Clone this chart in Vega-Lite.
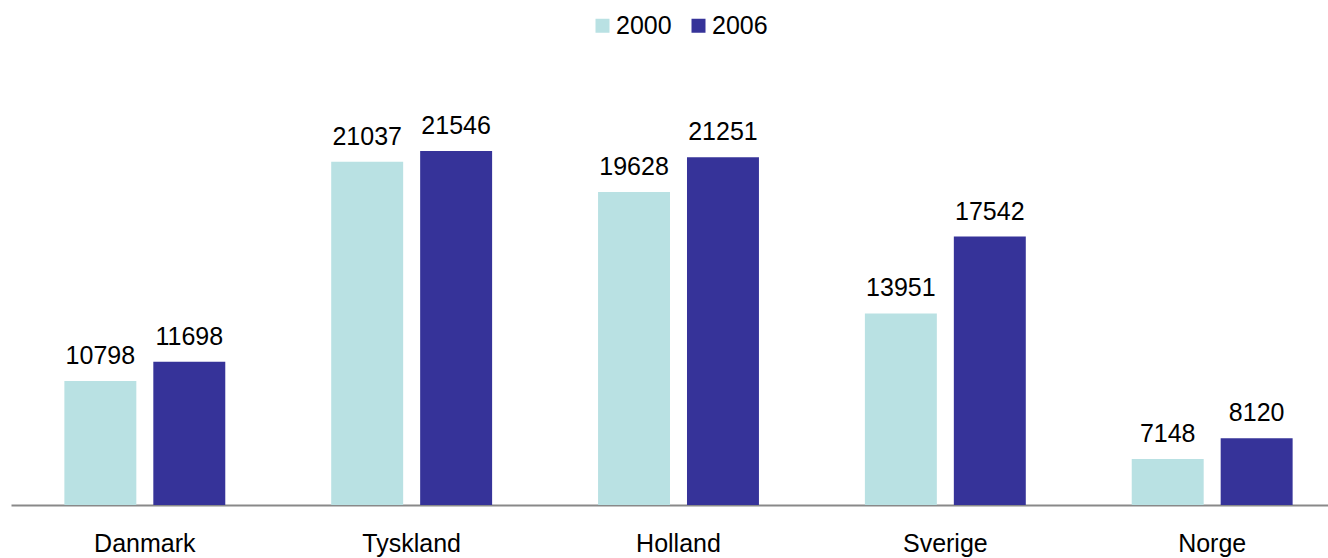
{
  "$schema": "https://vega.github.io/schema/vega-lite/v6.json",
  "autosize": {"type": "none"},
  "width": 1317,
  "height": 428,
  "padding": {"left": 11, "top": 77, "right": 0, "bottom": 53},
  "background": "white",
  "config": {
    "view": {"stroke": null},
    "font": "Liberation Sans",
    "axis": {"grid": false}
  },
  "data": {
    "values": [
      {"land": "Danmark", "year": "2000", "value": 10798},
      {"land": "Danmark", "year": "2006", "value": 11698},
      {"land": "Tyskland", "year": "2000", "value": 21037},
      {"land": "Tyskland", "year": "2006", "value": 21546},
      {"land": "Holland", "year": "2000", "value": 19628},
      {"land": "Holland", "year": "2006", "value": 21251},
      {"land": "Sverige", "year": "2000", "value": 13951},
      {"land": "Sverige", "year": "2006", "value": 17542},
      {"land": "Norge", "year": "2000", "value": 7148},
      {"land": "Norge", "year": "2006", "value": 8120}
    ]
  },
  "encoding": {
    "x": {
      "field": "land",
      "type": "nominal",
      "sort": ["Danmark", "Tyskland", "Holland", "Sverige", "Norge"],
      "scale": {"range": [0, 1335], "paddingInner": 0.397, "paddingOuter": 0.2},
      "axis": {
        "title": null,
        "labelAngle": 0,
        "ticks": false,
        "domainColor": "#898989",
        "domainWidth": 2,
        "labelFontSize": 25,
        "labelColor": "#000000",
        "labelPadding": 26,
        "labelFont": "Liberation Sans"
      }
    },
    "xOffset": {
      "field": "year",
      "type": "nominal",
      "scale": {"paddingInner": 0.191, "paddingOuter": 0}
    },
    "y": {
      "field": "value",
      "type": "quantitative",
      "scale": {"domain": [5000, 25000], "zero": false, "nice": false},
      "axis": null
    }
  },
  "layer": [
    {
      "mark": {"type": "bar"},
      "encoding": {
        "y2": {"datum": 5000},
        "color": {
          "field": "year",
          "type": "nominal",
          "scale": {"domain": ["2000", "2006"], "range": ["#B9E1E3", "#363399"]},
          "legend": {
            "title": null,
            "orient": "none",
            "direction": "horizontal",
            "legendX": 579,
            "legendY": -64,
            "symbolType": "square",
            "symbolSize": 196,
            "symbolStrokeWidth": 0,
            "symbolOpacity": 1,
            "labelFontSize": 25,
            "labelFont": "Liberation Sans",
            "labelColor": "#000000",
            "labelOffset": 1,
            "columnPadding": 14
          }
        }
      }
    },
    {
      "mark": {"type": "text", "baseline": "alphabetic", "dy": -17, "fontSize": 25, "font": "Liberation Sans", "color": "#000000"},
      "encoding": {
        "text": {"field": "value", "type": "quantitative", "format": "d"}
      }
    }
  ]
}
